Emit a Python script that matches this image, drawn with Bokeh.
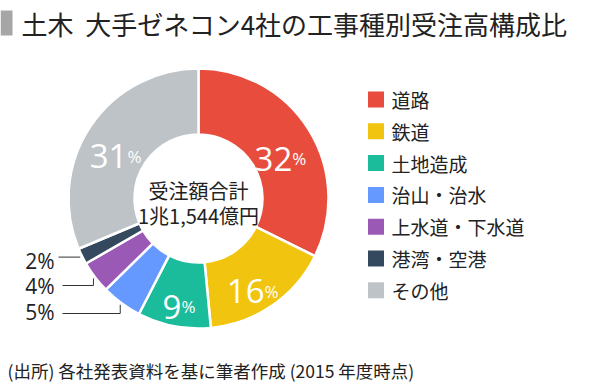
import math
from bokeh.plotting import figure
from bokeh.models import Range1d
from bokeh.core.properties import value
from bokeh.embed import file_html
from bokeh.resources import INLINE

# ---------------- data ----------------
categories = ["道路", "鉄道", "土地造成", "治山・治水", "上水道・下水道", "港湾・空港", "その他"]
shares = [32, 16, 9, 5, 4, 2, 31]
colors = ["#E74C3C", "#F1C40F", "#1ABC9C", "#6699FF", "#9B59B6", "#34495E", "#BDC3C7"]
title_text = "土木\u00a0\u00a0大手ゼネコン4社の工事種別受注高構成比"
center_lines = ["受注額合計", "1兆1,544億円"]
note_text = "(出所) 各社発表資料を基に筆者作成 (2015 年度時点)"
inside_idx = [0, 1, 2, 6]
outside_idx = [3, 4, 5]

# ---------------- layout ----------------
W, H = 600, 386
def Y(py):
    return H - py

CJK = value("Noto Sans CJK JP")
NUM = value("Open Sans")
TXT = "#222222"

p = figure(width=W, height=H, x_range=Range1d(0, W), y_range=Range1d(0, H),
           output_backend="svg", toolbar_location=None, min_border=0)
p.axis.visible = False
p.grid.visible = False
p.outline_line_color = None
p.background_fill_color = "white"
p.border_fill_color = "white"

CX, CY = 198, Y(198)
R_OUT, R_IN = 130, 64
total = float(sum(shares))

cum = [0.0]
for s in shares:
    cum.append(cum[-1] + s / total)
starts = [math.pi / 2 - 2 * math.pi * c for c in cum[:-1]]
ends = [math.pi / 2 - 2 * math.pi * c for c in cum[1:]]
mids = [math.pi / 2 - 2 * math.pi * (a + b) / 2 for a, b in zip(cum[:-1], cum[1:])]

p.annular_wedge(x=[CX] * len(shares), y=[CY] * len(shares), inner_radius=R_IN, outer_radius=R_OUT,
                start_angle=starts, end_angle=ends, direction="clock",
                fill_color=colors, line_color="white", line_width=2.5)

# inside percentage labels
R_LAB = 98
for i in inside_idx:
    num = str(shares[i])
    px = CX + R_LAB * math.cos(mids[i])
    py = CY + R_LAB * math.sin(mids[i])
    off = (len(num) * 18 - 15) / 2
    p.text(x=[px + off], y=[py - 12], text=[num], text_font=NUM, text_font_size="33px",
           text_color="white", text_align="right", text_baseline="alphabetic")
    p.text(x=[px + off], y=[py - 12], text=["%"], text_font=NUM, text_font_size="17px",
           text_color="white", text_align="left", text_baseline="alphabetic")

# outside labels with leader lines
lead_y = [313, 285, None]
text_y = [311, 285, 260]
line_end_x = [62, 62, 58]
for k, i in enumerate(outside_idx):
    ex = CX + (R_OUT + 2) * math.cos(mids[i])
    ey = CY + (R_OUT + 2) * math.sin(mids[i])
    ly = ey if lead_y[k] is None else Y(lead_y[k])
    p.line(x=[ex, ex, line_end_x[k]], y=[ey, ly, ly], line_color="#333333", line_width=1)
    p.text(x=[54], y=[Y(text_y[k])], text=[f"{shares[i]}%"], text_font=NUM, text_font_size="21px",
           text_color=TXT, text_align="right", text_baseline="middle")

# center text
p.text(x=[CX, CX], y=[Y(190), Y(215)], text=center_lines, text_font=CJK, text_font_size="20px",
       text_color=TXT, text_align="center", text_baseline="middle")

# legend
leg_y = [Y(99 + 31.8 * k) for k in range(len(categories))]
p.rect(x=[375.5] * len(categories), y=leg_y, width=16, height=16, fill_color=colors, line_color=None)
p.text(x=[391] * len(categories), y=leg_y, text=categories, text_font=CJK, text_font_size="19px",
       text_color=TXT, text_align="left", text_baseline="middle")

# title
p.quad(left=[0], right=[12], top=[Y(10)], bottom=[Y(35)], fill_color="#A6A6A6", line_color=None)
p.text(x=[21], y=[Y(23)], text=[title_text], text_font=CJK, text_font_size="26px",
       text_color=TXT, text_align="left", text_baseline="middle")

# footnote
p.text(x=[7], y=[Y(370)], text=[note_text], text_font=CJK, text_font_size="17.5px",
       text_color=TXT, text_align="left", text_baseline="middle")

open("out.html", "w").write(file_html(p, INLINE))
